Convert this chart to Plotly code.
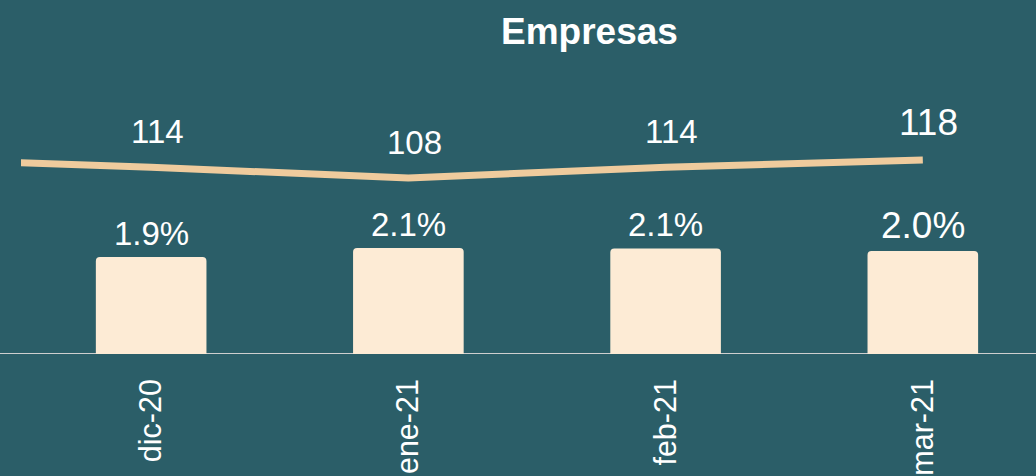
import plotly.graph_objects as go

meses = ["dic-20", "ene-21", "feb-21", "mar-21"]
tasa = [1.92, 2.10, 2.09, 2.04]          # % barras
empresas = [114, 108, 114, 118]          # linea
empresas_previo = 119                    # nov-20, fuera de rango (solo continua la linea)

bg = "#2B5E68"
crema = "#FDEBD5"
linea = "#EFCB9D"

x_pos = list(range(len(meses)))

fig = go.Figure()

fig.add_trace(go.Bar(
    x=x_pos,
    y=tasa,
    width=0.43,
    marker=dict(color=crema, cornerradius=4, line=dict(width=0)),
    hoverinfo="skip",
    showlegend=False,
))

fig.add_trace(go.Scatter(
    x=[-1] + x_pos,
    y=[empresas_previo] + empresas,
    mode="lines",
    line=dict(color=linea, width=7),
    yaxis="y2",
    hoverinfo="skip",
    showlegend=False,
))

# etiquetas (la ultima, destacada)
annotations = []
for i, v in enumerate(tasa):
    big = i == len(tasa) - 1
    annotations.append(dict(
        x=x_pos[i], y=v, xref="x", yref="y",
        text=f"{v:.1f}%", showarrow=False,
        yanchor="bottom", yshift=3,
        font=dict(size=37 if big else 33, color="white"),
    ))
for i, v in enumerate(empresas):
    big = i == len(empresas) - 1
    annotations.append(dict(
        x=x_pos[i], y=v, xref="x", yref="y2",
        text=f"{v}", showarrow=False,
        yanchor="bottom", yshift=15, xshift=6,
        font=dict(size=37 if big else 33, color="white"),
    ))

fig.update_layout(
    width=1036, height=476,
    paper_bgcolor=bg, plot_bgcolor=bg,
    margin=dict(l=21, r=0, t=60, b=122),
    font=dict(family="Liberation Sans, Arial", color="white"),
    title=dict(
        text="<b>Empresas</b>",
        x=589.5 / 1036, xanchor="center", xref="container",
        y=1 - 31 / 476, yanchor="middle", yref="container",
        font=dict(size=37, color="white"),
    ),
    xaxis=dict(
        tickvals=x_pos, ticktext=meses,
        range=[-0.506, 3.44],
        tickangle=-90,
        tickfont=dict(size=30.5, color="white"),
        showgrid=False, zeroline=False, showline=False,
        ticks="", ticklabelstandoff=18,
    ),
    yaxis=dict(
        range=[0, 5.82], visible=False, showgrid=False, zeroline=False,
    ),
    yaxis2=dict(
        range=[10.2, 173.6], overlaying="y", visible=False,
        showgrid=False, zeroline=False,
    ),
    annotations=annotations,
    shapes=[dict(
        type="line", xref="paper", yref="y",
        x0=-21 / 1015, x1=1, y0=0, y1=0,
        line=dict(color="#CFCFCF", width=2), layer="below",
    )],
)

fig.write_html(
    "out.html",
    config={"displayModeBar": False},
    post_script="document.body.style.margin='0';document.body.style.overflow='hidden';",
)
